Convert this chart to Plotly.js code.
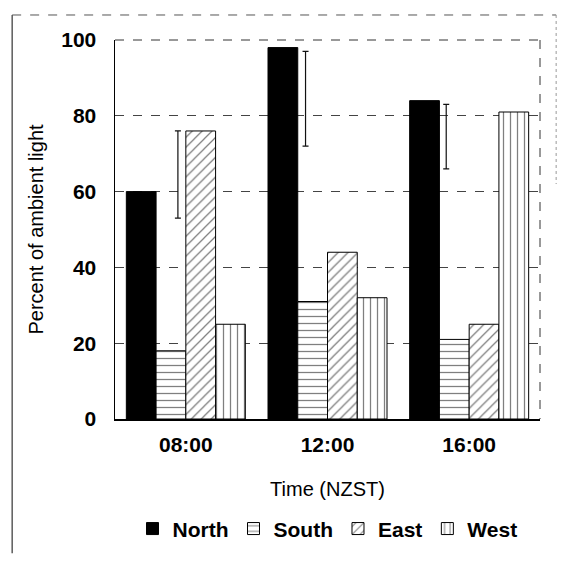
<!DOCTYPE html>
<html>
<head>
<meta charset="utf-8">
<script src="https://cdn.plot.ly/plotly-3.0.1.min.js"></script>
<style>
  html, body { margin: 0; padding: 0; background: #fff; }
  #chart { width: 576px; height: 561px; }
</style>
</head>
<body>
<div id="chart"></div>
<script>
// Times of day (NZ standard time)
const times = ['08:00', '12:00', '16:00'];

// Percent of ambient light by window orientation
const north = [60, 98, 84];
const south = [18, 31, 21];
const east  = [76, 44, 25];
const west  = [25, 32, 81];

// Range bars: upper and lower limits, and their shift within each group
const rangeHigh   = [76, 97, 83];
const rangeLow    = [53, 72, 66];
const rangeOffset = [-0.056, -0.155, -0.162];

const idx = times.map((_, i) => i);

function patternBar(name, values, shape, solid) {
  const t = {
    type: 'bar', name: name, x: idx, y: values,
    marker: { color: solid ? '#000' : '#fff', line: { color: '#000', width: 1 } }
  };
  if (!solid) {
    t.marker.pattern = { shape: shape, fgcolor: '#000', bgcolor: '#fff', size: 7, solidity: 0.18, fillmode: 'overlay' };
  }
  return t;
}

const traces = [
  patternBar('North', north, '', true),
  patternBar('South', south, '-', false),
  patternBar('East',  east,  '/', false),
  patternBar('West',  west,  '|', false),
  {
    type: 'scatter', mode: 'markers', showlegend: false, hoverinfo: 'skip',
    x: idx.map(i => i + rangeOffset[i]),
    y: rangeHigh.map((h, i) => (h + rangeLow[i]) / 2),
    marker: { size: 1, color: 'rgba(0,0,0,0)' },
    error_y: {
      type: 'data', symmetric: true,
      array: rangeHigh.map((h, i) => (h - rangeLow[i]) / 2),
      color: '#111', thickness: 1.2, width: 3
    }
  }
];

const family = '"Liberation Sans", Arial, sans-serif';
const boldFont = (size) => ({ family: family, size: size, weight: 'bold', color: '#000' });
const plainFont = (size) => ({ family: family, size: size, color: '#000' });

// page frame lines (paper coordinates)
const shapes = [
  { type: 'line', xref: 'paper', yref: 'paper', x0: -0.242, x1: -0.242, y0: 1.066, y1: -0.354, line: { color: '#333', width: 1.2 } },
  { type: 'line', xref: 'paper', yref: 'paper', x0: -0.242, x1: 1.038, y0: 1.066, y1: 1.066, line: { color: '#555', width: 1, dash: 'dash' } },
  { type: 'line', xref: 'paper', yref: 'paper', x0: 1.038, x1: 1.038, y0: 1.066, y1: 0.62, line: { color: '#999', width: 1, dash: 'dot' } },
  { type: 'line', xref: 'paper', yref: 'paper', x0: 0, x1: 1, y0: 1, y1: 1, line: { color: '#333', width: 1, dash: 'dash' } },
  { type: 'line', xref: 'paper', yref: 'paper', x0: 1, x1: 1, y0: 1, y1: 0, line: { color: '#333', width: 1, dash: 'dash' } }
];

const layout = {
  width: 576, height: 561,
  margin: { l: 115, r: 36, t: 40, b: 140 },
  paper_bgcolor: '#fff', plot_bgcolor: '#fff',
  font: plainFont(17),
  barmode: 'group', bargap: 0.16, bargroupgap: 0,
  showlegend: true,
  legend: {
    orientation: 'h', x: 0.5, xanchor: 'center', y: -0.29, yanchor: 'middle',
    font: boldFont(21),
    itemwidth: 30, traceorder: 'normal'
  },
  xaxis: {
    range: [-0.5, 2.5],
    tickvals: idx, ticktext: times,
    tickfont: boldFont(21),
    showgrid: false, zeroline: false,
    showline: true, linecolor: '#000', linewidth: 1.5,
    ticks: '', ticklabelstandoff: 6,
    title: { text: 'Time (NZST)', font: plainFont(20), standoff: 27 }
  },
  yaxis: {
    range: [0, 100],
    tickvals: [0, 20, 40, 60, 80, 100],
    tickfont: boldFont(21),
    showgrid: true, gridcolor: '#444', griddash: 'dash', gridwidth: 1,
    zeroline: false,
    showline: true, linecolor: '#000', linewidth: 1.5,
    ticks: '', ticklabelstandoff: 13,
    title: { text: 'Percent of ambient light', font: plainFont(20), standoff: 12 }
  },
  shapes: shapes
};

Plotly.newPlot('chart', traces, layout, { displayModeBar: false, staticPlot: true });
</script>
</body>
</html>
